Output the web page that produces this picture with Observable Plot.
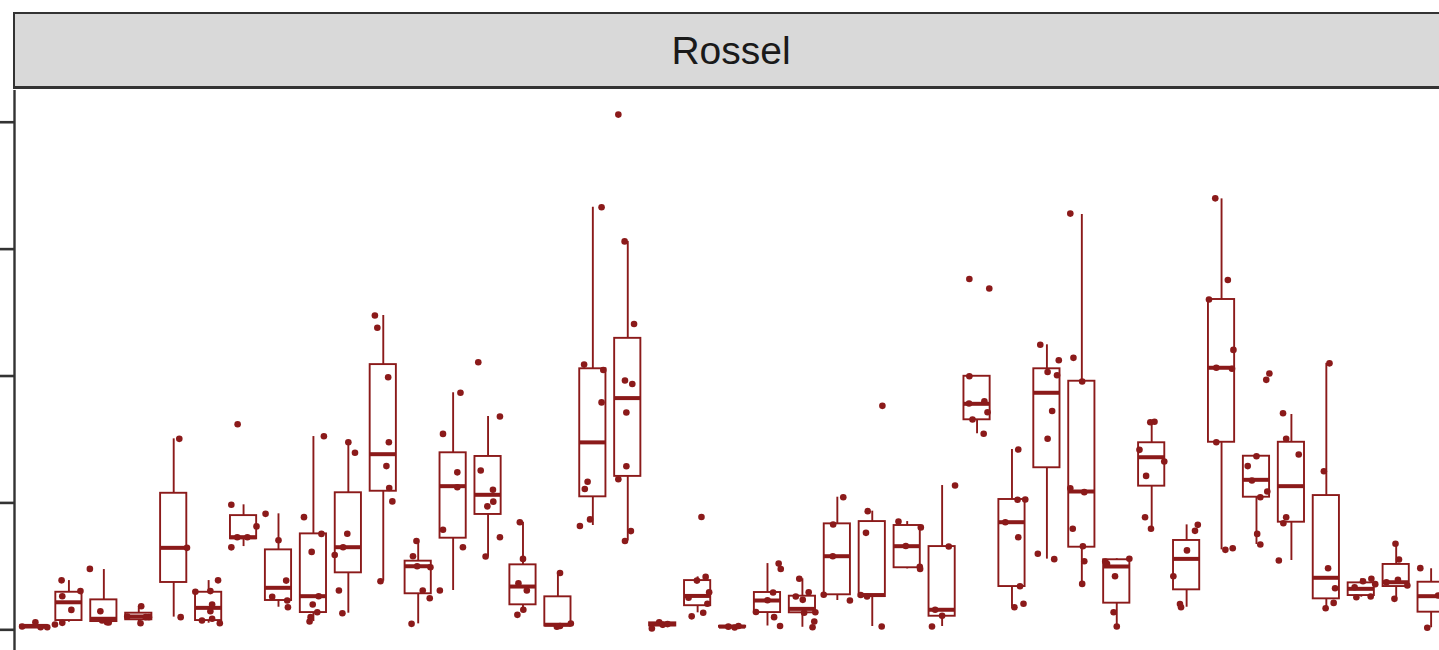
<!DOCTYPE html>
<html><head><meta charset="utf-8">
<script src="https://cdn.jsdelivr.net/npm/d3@7"></script>
<script src="https://cdn.jsdelivr.net/npm/@observablehq/plot@0.6"></script>
<style>
html,body{margin:0;padding:0;background:#fff;overflow:hidden;width:1439px;height:650px;}
#strip{position:relative;height:90px;width:1439px;overflow:hidden;}
#strip .box{position:absolute;left:13px;top:12px;width:1440px;height:77px;box-sizing:border-box;background:#d9d9d9;border:2px solid #333;border-bottom:3px solid #333;border-right:none;}
#strip .label{position:absolute;left:731px;top:50.5px;transform:translate(-50%,-50%);font-family:"Liberation Sans",Arial,sans-serif;font-size:39px;color:#1a1a1a;white-space:nowrap;}
svg{display:block}
</style></head><body>
<div id="strip"><div class="box"></div><div class="label">Rossel</div></div>
<div id="chart"></div>
<script>
const panelTitle = "Rossel";
const categories = ["1","2","3","4","5","6","7","8","9","10","11","12","13","14","15","16","17","18","19","20","21","22","23","24","25","26","27","28","29","30","31","32","33","34","35","36","37","38","39","40","41"];
const yTicks = [0, 1, 2, 3, 4];
const q1 = [0.018,0.073,0.065,0.079,0.373,0.073,0.717,0.231,0.136,0.449,1.092,0.284,0.722,0.909,0.197,0.03,1.048,1.209,0.03,0.19,0.02,0.136,0.134,0.276,0.262,0.489,0.107,1.655,0.341,1.277,0.651,0.21,1.132,0.315,1.478,1.045,0.848,0.244,0.27,0.341,0.139];
const median = [0.026,0.217,0.087,0.105,0.646,0.173,0.73,0.331,0.265,0.651,1.384,0.501,1.132,1.064,0.341,0.04,1.477,1.826,0.045,0.267,0.025,0.231,0.165,0.58,0.274,0.659,0.158,1.781,0.848,1.868,1.09,0.499,1.36,0.559,2.065,1.182,1.132,0.41,0.323,0.375,0.265];
const q3 = [0.035,0.296,0.236,0.131,1.076,0.296,0.9,0.63,0.756,1.08,2.09,0.541,1.395,1.366,0.512,0.26,2.057,2.297,0.055,0.388,0.028,0.294,0.265,0.835,0.853,0.822,0.656,1.998,1.027,2.057,1.959,0.552,1.474,0.704,2.603,1.368,1.478,1.058,0.37,0.515,0.375];
const whiskerLow = [0.015,0.06,0.058,0.052,0.1,0.052,0.656,0.178,0.065,0.131,0.383,0.047,0.31,0.578,0.15,0.025,0.822,0.7,0.01,0.134,0.018,0.03,0.02,0.231,0.026,0.48,0.026,1.545,0.178,0.557,0.362,0.026,0.796,0.178,0.63,0.672,0.546,0.17,0.257,0.244,0.016];
const whiskerHigh = [0.06,0.388,0.475,0.186,1.505,0.388,0.985,0.914,1.523,1.478,2.477,0.7,1.868,1.681,0.848,0.448,3.33,3.061,0.06,0.417,0.03,0.522,0.402,1.045,0.935,0.853,1.137,1.998,1.421,2.246,3.273,0.56,1.64,0.827,3.396,1.368,1.697,2.1,0.402,0.678,0.481];
const pointValues = [
 [0.06,0.02,0.02,0.026],
 [0.39,0.265,0.157,0.305,0.055,0.042],
 [0.48,0.146,0.073,0.06,0.058],
 [0.186,0.105,0.052,0.1,0.1],
 [1.505,0.646,0.1],
 [0.39,0.3,0.305,0.2,0.146,0.073,0.087,0.052],
 [1.62,0.985,0.815,0.65,0.73,0.73],
 [0.914,0.706,0.388,0.26,0.231,0.178],
 [1.525,0.888,0.756,0.614,0.265,0.2,0.139,0.1,0.065],
 [1.478,1.395,0.757,0.651,0.59,0.31,0.131],
 [2.477,2.38,1.99,1.478,1.29,1.117,1.012,0.383],
 [0.7,0.58,0.501,0.493,0.31,0.249,0.047],
 [1.868,1.544,1.241,1.123,0.788,0.651,0.31],
 [2.109,1.681,1.256,1.104,1.01,0.973,0.73,0.578],
 [0.848,0.559,0.367,0.31,0.158,0.118],
 [0.448,0.03,0.05,0.025],
 [3.33,2.09,2.047,1.792,1.167,1.11,0.87,0.818],
 [4.06,3.061,2.41,1.965,1.937,1.713,1.289,1.187,0.778,0.7],
 [0.01,0.06,0.04,0.045],
 [0.889,0.388,0.417,0.296,0.205,0.253,0.134,0.106],
 [0.025,0.018,0.03],
 [0.522,0.479,0.294,0.233,0.14,0.1,0.03],
 [0.402,0.296,0.236,0.262,0.139,0.065,0.02,0.134],
 [1.045,0.83,0.58,0.276,0.231],
 [1.765,0.935,0.764,0.274,0.262,0.026],
 [0.853,0.807,0.497,0.48,0.66],
 [1.137,0.656,0.158,0.026,0.11],
 [2.765,2.69,1.998,1.8,1.715,1.657,1.545,1.783],
 [1.421,1.025,1.027,0.848,0.73,0.343,0.178,0.205],
 [2.246,2.124,2.032,2.006,1.724,1.506,0.6,0.557],
 [3.28,2.143,1.957,1.116,1.085,0.796,0.658,0.54,0.362],
 [0.538,0.56,0.422,0.139,0.026,0.52],
 [1.636,1.64,1.418,1.326,1.213,0.887,0.796],
 [0.827,0.78,0.626,0.422,0.204,0.178],
 [3.4,2.757,2.603,2.206,2.065,2.057,1.478,0.63,0.643],
 [2.02,1.97,1.368,1.29,1.177,1.09,1.045,0.756,0.672],
 [1.707,1.505,1.381,0.887,0.84,0.546],
 [2.1,1.25,0.485,0.327,0.212,0.17],
 [0.383,0.402,0.335,0.257,0.262,0.36],
 [0.678,0.554,0.394,0.349,0.244,0.375],
 [0.486,0.016,0.27]
];
const pointJitter = [
 [0.04,0.19,0.38,-0.34],
 [-0.21,-0.19,0.07,0.33,-0.19,-0.4],
 [-0.4,-0.1,-0.05,0.09,0.14],
 [0.07,-0.33,0.05,0.29,0.2],
 [0.16,0.38,0.2],
 [0.27,-0.38,0.05,0.1,0.05,-0.19,0.1,0.32],
 [-0.17,-0.35,0.37,-0.35,-0.18,0.11],
 [-0.37,0,0.22,-0.18,0.25,0.27],
 [0.3,-0.27,0.23,-0.05,0.15,-0.02,0.11,-0.08,-0.11],
 [0,0.19,-0.03,-0.15,-0.39,-0.27,-0.17],
 [-0.24,-0.17,0.14,0.16,0.09,0.17,0.26,-0.08],
 [-0.05,-0.15,-0.03,0.35,0.13,0.33,-0.19],
 [0.21,-0.29,0.12,0.12,-0.29,0.28,-0.38],
 [-0.28,0.34,-0.21,0.14,0.15,-0.02,0.34,-0.07],
 [-0.09,0,-0.13,0.11,0.01,-0.16],
 [0.06,0.06,0.37,-0.03],
 [0.25,-0.25,0.3,0.25,-0.15,-0.23,-0.08,-0.37],
 [-0.27,-0.09,0.18,-0.08,0.13,-0.04,-0.04,-0.27,0.09,-0.08],
 [-0.31,-0.1,0,0.14],
 [0.11,-0.02,0.23,0.33,0.28,-0.26,0.16,-0.17],
 [-0.12,0.06,0.17],
 [0.32,0.38,0.16,0,-0.33,0.19,0.36],
 [-0.09,0.18,0.01,-0.19,0.37,0.34,0.29,0.05],
 [0.17,-0.12,-0.13,-0.39,0.36],
 [0.29,-0.13,-0.18,-0.33,-0.15,0.27],
 [-0.25,0.39,0.36,0.37,-0.04],
 [0.37,0.19,-0.2,-0.29,0],
 [-0.22,0.35,-0.22,0.21,0.3,-0.13,0.19,-0.23],
 [0.18,0.16,0.38,-0.19,0.18,0.23,0.07,0.33],
 [-0.19,0.34,0.02,0.29,0.15,0.02,-0.26,0.21],
 [-0.33,-0.24,0.01,-0.33,0.07,-0.26,0.03,0.07,0.01],
 [-0.33,0.36,-0.05,-0.09,0,-0.28],
 [-0.04,0.08,-0.35,0.36,-0.16,-0.19,-0.02],
 [0.32,0.24,0.01,-0.38,-0.19,-0.16],
 [-0.18,0.18,-0.36,0.34,-0.15,0.3,-0.15,0.11,0.32],
 [0.37,0.28,0,-0.25,-0.13,0.31,0.11,0.02,0.11],
 [-0.24,-0.15,0.21,-0.15,-0.23,-0.36],
 [0.09,-0.07,0.05,0.25,0.21,-0.02],
 [0.05,0.29,-0.19,-0.14,0.27,0.4],
 [-0.02,0.08,0.05,0.32,-0.05,-0.28],
 [-0.31,-0.11,0.2]
];

const color = "#8B1A1A";
const axisColor = "#333333";
const half = 0.375;
const boxes = categories.map((c, i) => ({c, x: i + 1, q1: q1[i], med: median[i], q3: q3[i], lo: whiskerLow[i], hi: whiskerHigh[i]}));
const pts = categories.flatMap((c, i) => pointValues[i].map((v, j) => ({c, x: i + 1 + pointJitter[i][j], v})));
const xMin = 0.442;

const chart = Plot.plot({
  width: 1439, height: 560,
  marginLeft: 14, marginRight: 0, marginTop: 0, marginBottom: 0,
  style: {background: "white", overflow: "hidden"},
  x: {type: "linear", domain: [xMin, 41.24], axis: null},
  y: {domain: [-0.163, 4.25]},
  marks: [
    Plot.ruleX(boxes, {x: "x", y1: "q3", y2: "hi", stroke: color, strokeWidth: 1.9}),
    Plot.ruleX(boxes, {x: "x", y1: "lo", y2: "q1", stroke: color, strokeWidth: 1.9}),
    Plot.rect(boxes, {x1: d => d.x - half, x2: d => d.x + half, y1: "q1", y2: "q3", fill: "white", stroke: color, strokeWidth: 1.9}),
    Plot.ruleY(boxes, {y: "med", x1: d => d.x - half, x2: d => d.x + half, stroke: color, strokeWidth: 4}),
    Plot.dot(pts, {x: "x", y: "v", r: 3.3, fill: color, stroke: "none"}),
    Plot.ruleX([xMin], {stroke: axisColor, strokeWidth: 2.4}),
    Plot.axisY({ticks: yTicks, tickSize: 14, tickFormat: () => "", stroke: axisColor, strokeWidth: 2.6})
  ]
});
document.getElementById("chart").appendChild(chart);
</script>
</body></html>
